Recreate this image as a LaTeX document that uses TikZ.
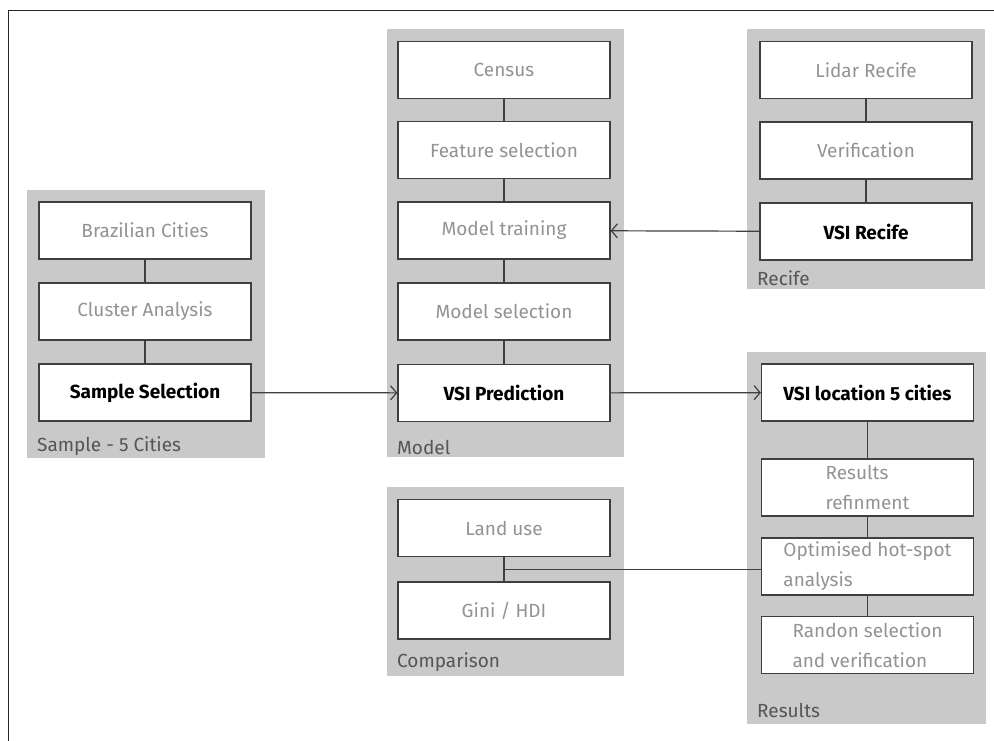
\documentclass[tikz,border=0pt]{standalone}
\usepackage{fontspec}
\setmainfont{Fira Sans}
\usetikzlibrary{arrows.meta,calc}
\definecolor{groupgray}{HTML}{C9C9C9}
\definecolor{edgegray}{HTML}{3F3F3F}
\definecolor{softtext}{HTML}{939393}
\definecolor{labeltext}{HTML}{555555}
\begin{document}
\begin{tikzpicture}[x=1pt,y=-1pt,
  group/.style={fill=groupgray, draw=none},
  stepbox/.style={draw=edgegray, line width=1.2pt, fill=white,
    minimum width=212pt, minimum height=57pt, inner sep=0pt,
    text=softtext, font=\fontsize{19}{30}\selectfont, align=left},
  keybox/.style={stepbox, text=black, font=\fontsize{19}{30}\selectfont\bfseries},
  grouplabel/.style={anchor=west, text=labeltext, inner sep=0pt,
    font=\fontsize{19}{22}\selectfont},
  link/.style={draw=edgegray, line width=1.2pt},
  flow/.style={link, -{Straight Barb[length=6pt, width=14pt]}}
]
\useasboundingbox (0,0) rectangle (994,740);

% outer frame (top and left edges)
\draw[line width=1.5pt, black!85] (8.5,745) -- (8.5,10.5) -- (1000,10.5);

% group panels
\fill[group] (27,190) rectangle (265,458);
\fill[group] (387,29) rectangle (624,457);
\fill[group] (747,29) rectangle (985,289);
\fill[group] (747,352) rectangle (986,724);
\fill[group] (387,487) rectangle (624,676);

% group captions
\node[grouplabel] (capsample) at (37,446) {Sample - 5 Cities};
\node[grouplabel] (capmodel) at (397,447) {Model};
\node[grouplabel] (caprecife) at (757,278) {Recife};
\node[grouplabel] (capresults) at (757,710) {Results};
\node[grouplabel] (capcomp) at (397,662) {Comparison};

% sample selection
\node[stepbox] (brazil) at (145,230.5) {Brazilian Cities};
\node[stepbox] (cluster) at (145,311.5) {Cluster Analysis};
\node[keybox] (sample) at (145,392.5) {Sample Selection};

% model
\node[stepbox] (census) at (504,70) {Census};
\node[stepbox] (feature) at (504,150) {Feature selection};
\node[stepbox] (training) at (504,230.5) {Model training};
\node[stepbox] (msel) at (504,311.5) {Model selection};
\node[keybox] (pred) at (504,393) {VSI Prediction};

% recife
\node[stepbox] (lidar) at (866,70) {Lidar Recife};
\node[stepbox] (verif) at (866,150.5) {Verification};
\node[keybox] (vsirec) at (866,231.5) {VSI Recife};

% results
\node[keybox] (loc) at (867.5,392.5) {VSI location 5 cities};
\node[stepbox] (refine) at (867.5,487.5) {Results\\refinment};
\node[stepbox] (hotspot) at (867.5,566.5) {Optimised hot-spot\\analysis};
\node[stepbox] (random) at (867.5,645) {Randon selection\\and verification};

% comparison
\node[stepbox] (land) at (504,528) {Land use};
\node[stepbox] (gini) at (504,610.5) {Gini / HDI};

% vertical links inside panels
\draw[link] (brazil) -- (cluster);
\draw[link] (cluster) -- (sample);
\draw[link] (census) -- (feature);
\draw[link] (feature) -- (training);
\draw[link] (training) -- (msel);
\draw[link] (msel) -- (pred);
\draw[link] (lidar) -- (verif);
\draw[link] (verif) -- (vsirec);
\draw[link] (loc) -- (refine);
\draw[link] (refine) -- (hotspot);
\draw[link] (hotspot) -- (random);
\draw[link] (land) -- (gini);

% comparison tie to hot-spot analysis
\coordinate (junc) at ($(land.south)!0.5!(gini.north)$);
\draw[link] (junc) -- (junc -| hotspot.west);

% flow arrows
\draw[flow] (sample) -- (pred);
\draw[flow] (pred) -- (loc);
\draw[flow] (vsirec) -- (training);
\end{tikzpicture}
\end{document}
